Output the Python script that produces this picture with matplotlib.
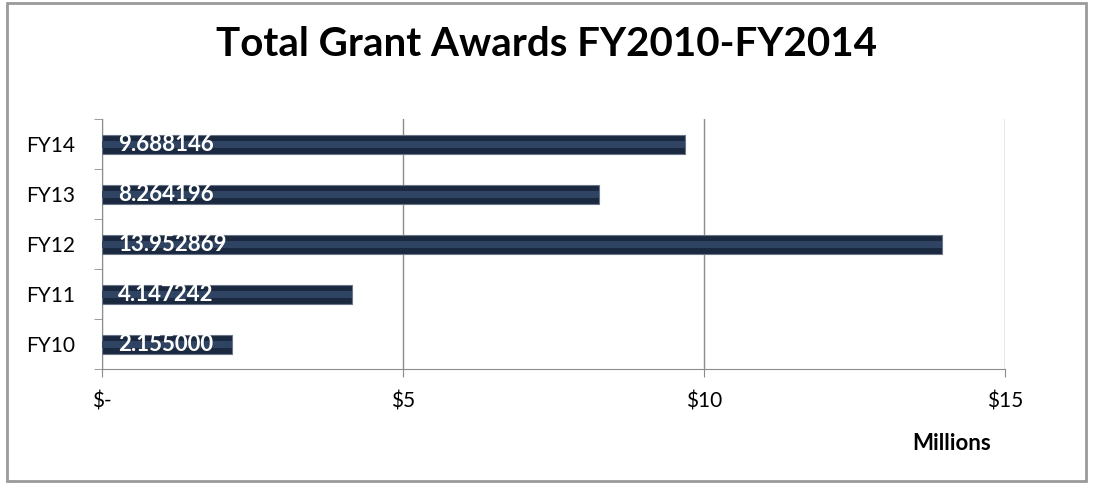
import numpy as np
import matplotlib
matplotlib.use("Agg")
from matplotlib import pyplot as plt
from matplotlib.patches import Rectangle

plt.rcParams['font.family'] = ['Lato', 'DejaVu Sans']

# data (millions of dollars)
years = ['FY10', 'FY11', 'FY12', 'FY13', 'FY14']
awards = [2.155000, 4.147242, 13.952869, 8.264196, 9.688146]
award_labels = ['2.155000', '4.147242', '13.952869', '8.264196', '9.688146']
x_ticks = [0, 5, 10, 15]
x_tick_labels = ['$-', '$5', '$10', '$15']

fig = plt.figure(figsize=(10.93, 4.87), dpi=100)
ax = fig.add_axes([0.0933, 0.242, 0.826, 0.513])

# outer chart frame
fig.patches.append(Rectangle((0.006, 0.012), 0.988, 0.982, transform=fig.transFigure,
                             fill=False, edgecolor='#9a9a9a', linewidth=2.0))

pos = np.arange(len(years))
ax.barh(pos, awards, height=0.38, color='#1a2940', edgecolor='#6a7688', linewidth=0.8, zorder=3)
ax.barh(pos, awards, height=0.14, color='#2f4462', linewidth=0, zorder=4)

for p, v, lab in zip(pos, awards, award_labels):
    ax.text(0.27, p, lab, color='white', fontweight='bold', fontsize=16,
            va='center', ha='left', zorder=5)

ax.set_xlim(0, 15)
ax.set_ylim(-0.5, len(years) - 0.5)
ax.set_xticks(x_ticks)
ax.set_xticklabels(x_tick_labels, fontsize=15)
ax.set_yticks(pos)
ax.set_yticklabels(years, fontsize=15)
ax.set_yticks(np.arange(-0.5, len(years), 1), minor=True)

ax.grid(axis='x', color='#8c8c8c', linewidth=1.0, zorder=0)
ax.tick_params(axis='x', direction='out', length=6, color='#8c8c8c', pad=10)
ax.tick_params(axis='y', which='major', length=0, pad=19)
ax.tick_params(axis='y', which='minor', direction='out', length=6, color='#8c8c8c')

for side in ['top', 'right']:
    ax.spines[side].set_visible(False)
for side in ['left', 'bottom']:
    ax.spines[side].set_color('#8c8c8c')

fig.text(0.5, 0.908, 'Total Grant Awards FY2010-FY2014', ha='center', va='center',
         fontsize=29, fontweight='bold')
fig.text(0.871, 0.09, 'Millions', ha='center', va='center', fontsize=16, fontweight='bold')

plt.savefig('out.png', dpi=100)
